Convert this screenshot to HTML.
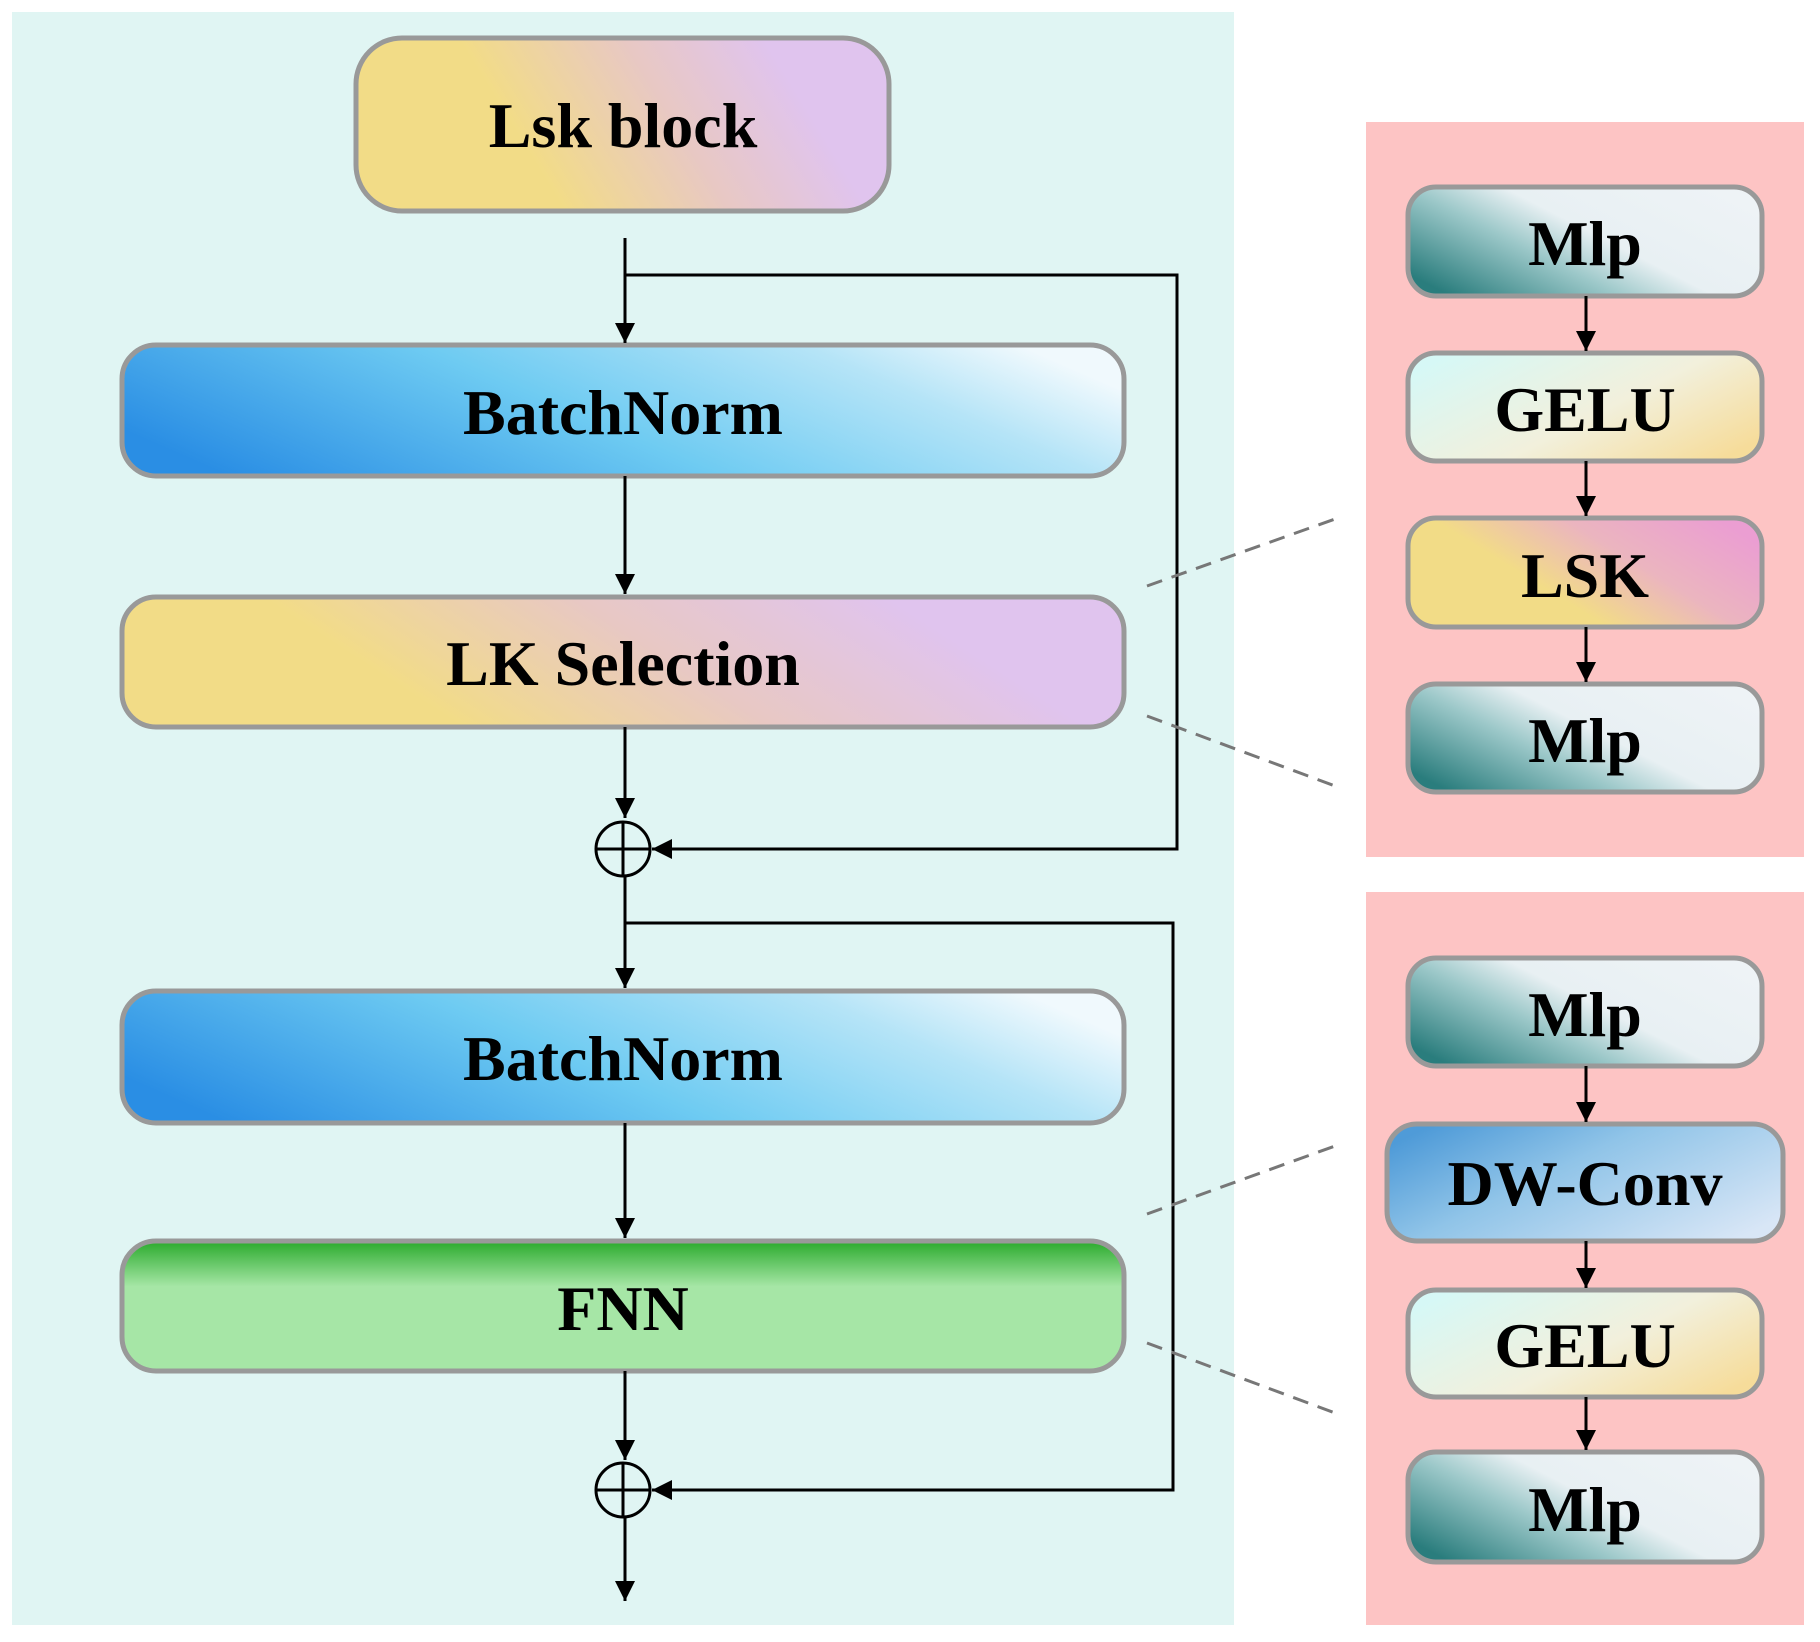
<!DOCTYPE html>
<html><head><meta charset="utf-8"><style>html,body{margin:0;padding:0;background:#fff}svg{display:block}</style></head>
<body>
<svg width="1820" height="1642" viewBox="0 0 1820 1642" xmlns="http://www.w3.org/2000/svg" font-family="'Liberation Serif', serif" font-weight="bold">
<defs>
<linearGradient id="lk" x1="0" y1="0.6" x2="1" y2="0.4"><stop offset="0.3" stop-color="#f2dc87"/><stop offset="0.6" stop-color="#e8c8c4"/><stop offset="0.85" stop-color="#e0c4ee"/></linearGradient>
<linearGradient id="lk2" x1="0" y1="0.6" x2="1" y2="0.4"><stop offset="0.25" stop-color="#f2dc87"/><stop offset="0.55" stop-color="#e8c8c4"/><stop offset="0.85" stop-color="#e0c4ee"/></linearGradient>
<linearGradient id="bn" x1="0" y1="0.65" x2="1" y2="0.35"><stop offset="0" stop-color="#2a8ee4"/><stop offset="0.45" stop-color="#6ecbf2"/><stop offset="0.8" stop-color="#b5e4f7"/><stop offset="1" stop-color="#f0f9fd"/></linearGradient>
<linearGradient id="fnn" x1="0" y1="0" x2="0" y2="1"><stop offset="0" stop-color="#2aaa2c"/><stop offset="0.35" stop-color="#a6e6a6"/><stop offset="1" stop-color="#a6e6a6"/></linearGradient>
<linearGradient id="mlp" x1="0" y1="0.8" x2="1" y2="0.2"><stop offset="0" stop-color="#2a7d7d"/><stop offset="0.35" stop-color="#9cc8c9"/><stop offset="0.55" stop-color="#e8f0f3"/><stop offset="1" stop-color="#eef3f6"/></linearGradient>
<linearGradient id="gelu" x1="0" y1="0.2" x2="1" y2="0.8"><stop offset="0" stop-color="#d6f8f6"/><stop offset="0.55" stop-color="#f2f0dc"/><stop offset="1" stop-color="#f6dc9a"/></linearGradient>
<linearGradient id="lsk" x1="0" y1="0.75" x2="1" y2="0.25"><stop offset="0.35" stop-color="#f2dc87"/><stop offset="0.65" stop-color="#ebb5bf"/><stop offset="1" stop-color="#eb9ed2"/></linearGradient>
<linearGradient id="dw" x1="0" y1="0.2" x2="1" y2="0.8"><stop offset="0" stop-color="#4f9bd8"/><stop offset="0.4" stop-color="#90c4e8"/><stop offset="1" stop-color="#d8e6f6"/></linearGradient>
<marker id="ar" viewBox="0 0 10 10" refX="10" refY="5" markerWidth="20" markerHeight="20" markerUnits="userSpaceOnUse" orient="auto"><path d="M0,0L10,5L0,10z" fill="#000"/></marker>
</defs>
<rect x="12" y="12" width="1222" height="1613" fill="#e0f5f3"/>
<rect x="1366" y="122" width="438" height="735" fill="#fdc4c4"/>
<rect x="1366" y="892" width="438" height="733" fill="#fdc4c4"/>
<g stroke="#999" stroke-width="5">
<rect x="356" y="38" width="533" height="173" rx="46" fill="url(#lk)"/>
<rect x="122" y="345" width="1002" height="131" rx="34" fill="url(#bn)"/>
<rect x="122" y="597" width="1002" height="130" rx="34" fill="url(#lk2)"/>
<rect x="122" y="991" width="1002" height="132" rx="34" fill="url(#bn)"/>
<rect x="122" y="1241" width="1002" height="130" rx="34" fill="url(#fnn)"/>
<rect x="1408" y="187" width="354" height="109" rx="28" fill="url(#mlp)"/>
<rect x="1408" y="353" width="354" height="108" rx="28" fill="url(#gelu)"/>
<rect x="1408" y="518" width="354" height="109" rx="28" fill="url(#lsk)"/>
<rect x="1408" y="684" width="354" height="108" rx="28" fill="url(#mlp)"/>
<rect x="1408" y="958" width="354" height="108" rx="28" fill="url(#mlp)"/>
<rect x="1387" y="1124" width="396" height="117" rx="30" fill="url(#dw)"/>
<rect x="1408" y="1290" width="354" height="107" rx="28" fill="url(#gelu)"/>
<rect x="1408" y="1452" width="354" height="110" rx="28" fill="url(#mlp)"/>
</g>
<g stroke="#000" stroke-width="3" fill="none">
<line x1="625" y1="238" x2="625" y2="343" marker-end="url(#ar)"/>
<polyline points="625,275 1177,275 1177,849 652,849" marker-end="url(#ar)"/>
<line x1="625" y1="476" x2="625" y2="594" marker-end="url(#ar)"/>
<line x1="625" y1="727" x2="625" y2="818" marker-end="url(#ar)"/>
<circle cx="623" cy="849" r="27"/>
<line x1="596" y1="849" x2="650" y2="849"/>
<line x1="623" y1="822" x2="623" y2="876"/>
<line x1="625" y1="876" x2="625" y2="988" marker-end="url(#ar)"/>
<polyline points="625,923 1173,923 1173,1490 652,1490" marker-end="url(#ar)"/>
<line x1="625" y1="1123" x2="625" y2="1238" marker-end="url(#ar)"/>
<line x1="625" y1="1371" x2="625" y2="1460" marker-end="url(#ar)"/>
<circle cx="623" cy="1490" r="27"/>
<line x1="596" y1="1490" x2="650" y2="1490"/>
<line x1="623" y1="1463" x2="623" y2="1517"/>
<line x1="625" y1="1517" x2="625" y2="1601" marker-end="url(#ar)"/>
<line x1="1586" y1="296" x2="1586" y2="351" marker-end="url(#ar)"/>
<line x1="1586" y1="461" x2="1586" y2="516" marker-end="url(#ar)"/>
<line x1="1586" y1="627" x2="1586" y2="682" marker-end="url(#ar)"/>
<line x1="1586" y1="1066" x2="1586" y2="1122" marker-end="url(#ar)"/>
<line x1="1586" y1="1241" x2="1586" y2="1288" marker-end="url(#ar)"/>
<line x1="1586" y1="1397" x2="1586" y2="1450" marker-end="url(#ar)"/>
</g>
<g stroke="#777" stroke-width="3" stroke-dasharray="16,10" fill="none">
<line x1="1147" y1="586" x2="1335" y2="519"/>
<line x1="1147" y1="716" x2="1335" y2="786"/>
<line x1="1147" y1="1214" x2="1335" y2="1146"/>
<line x1="1147" y1="1343" x2="1335" y2="1413"/>
</g>
<g font-size="64" text-anchor="middle" fill="#000">
<text x="623" y="147">Lsk block</text>
<text x="623" y="434">BatchNorm</text>
<text x="623" y="685">LK Selection</text>
<text x="623" y="1080">BatchNorm</text>
<text x="623" y="1330">FNN</text>
<text x="1585" y="265">Mlp</text>
<text x="1585" y="431">GELU</text>
<text x="1585" y="597">LSK</text>
<text x="1585" y="762">Mlp</text>
<text x="1585" y="1036">Mlp</text>
<text x="1585" y="1205">DW-Conv</text>
<text x="1585" y="1367">GELU</text>
<text x="1585" y="1531">Mlp</text>
</g>
</svg>
</body></html>
